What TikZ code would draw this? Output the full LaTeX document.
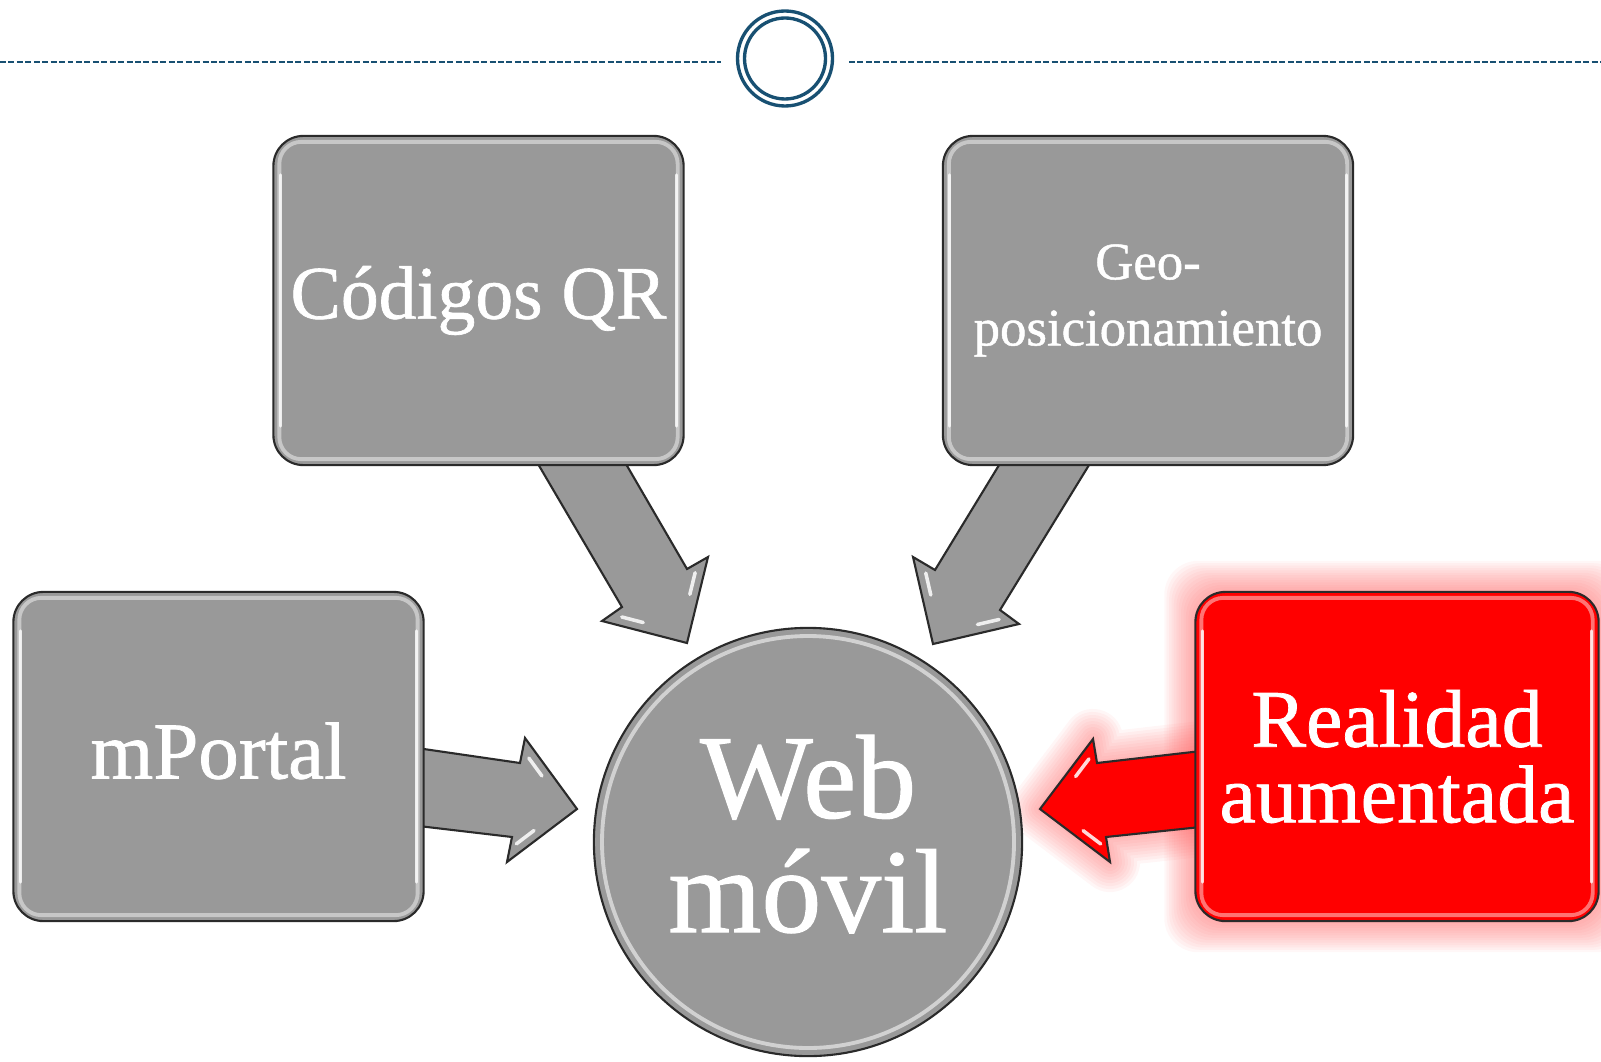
\documentclass[tikz,border=0pt]{standalone}
\usepackage{fontspec}
\setmainfont{Liberation Serif}[FakeBold=0.9]
\usetikzlibrary{calc}
\definecolor{boxgray}{HTML}{999999}
\definecolor{deco}{RGB}{24,80,114}
\definecolor{edge}{HTML}{2A2A2A}
\definecolor{hot}{HTML}{FF0000}
\newcommand\glossbox[1]{%
  \draw[white, opacity=0.45, line width=1.1pt, rounded corners=0.22cm]
    ($(#1.north west)+(7,7)$) rectangle ($(#1.south east)+(-7,-7)$);
  \draw[white, opacity=0.8, line width=0.9pt, line cap=round]
    ($(#1.north west)+(8,40)$) -- ($(#1.south west)+(8,-40)$);
  \draw[white, opacity=0.8, line width=0.9pt, line cap=round]
    ($(#1.north east)+(-8,40)$) -- ($(#1.south east)+(-8,-40)$);
}
\newcommand\headgloss[3]{% barb1, tip, barb2
  \draw[white, opacity=0.85, line width=1pt, line cap=round]
    ($(#1)!0.12!(#2)!0.10!(#3)$) -- ($(#1)!0.40!(#2)!0.10!(#3)$);
  \draw[white, opacity=0.85, line width=1pt, line cap=round]
    ($(#3)!0.12!(#2)!0.10!(#1)$) -- ($(#3)!0.40!(#2)!0.10!(#1)$);
}
\begin{document}
\begin{tikzpicture}[x=0.01cm,y=-0.01cm,
  gbox/.style={draw=edge, line width=0.6pt, fill=boxgray, rounded corners=0.3cm,
    minimum width=4.1cm, minimum height=3.29cm, inner sep=0pt, text=white, align=center},
  rbox/.style={gbox, fill=hot, minimum width=4.03cm},
  blockarrow/.style={draw=edge, line width=0.6pt, fill=boxgray, line join=miter},
  redarrow/.style={blockarrow, fill=hot},
  deco line/.style={deco, line width=0.45pt, dash pattern=on 1.7pt off 0.7pt},
  ring/.style={deco, line width=0.95pt}
]
\useasboundingbox (0,0) rectangle (1601,1061);

% ---------- top decoration ----------
\node[circle, minimum size=0.95cm, inner sep=0pt] (topc) at (785,58.5) {};
\coordinate (dl0) at (0,62);
\coordinate (dl1) at (721,62);
\coordinate (dr0) at (849,62);
\coordinate (dr1) at (1601,62);
\draw[deco line] (dl0) -- (dl1);
\draw[deco line] (dr0) -- (dr1);
\draw[ring] (topc) circle (47.5);
\draw[ring] (topc) circle (40.5);

\path
  (478.5,300.5) coordinate (qrc)
  (1148,300.5) coordinate (geoc)
  (218.5,756.5) coordinate (mpc)
  (1397,756.5) coordinate (rac)
  (808,842) coordinate (webc);

% glow of red elements
\foreach \i in {1,...,13}{
  \fill[hot!65, opacity=0.05, rounded corners=0.34cm]
    ($(rac)+(-201.5-2.4*\i,-164.5-2.4*\i)$) rectangle ($(rac)+(201.5+2.4*\i,164.5+2.4*\i)$);}
\coordinate (ra1) at (1210,750);
\coordinate (ra2) at (1097,763);
\coordinate (ra3) at (1093,739);
\coordinate (ra4) at (1040,809);
\coordinate (ra5) at (1110,862);
\coordinate (ra6) at (1106,837);
\coordinate (ra7) at (1210,826);
\foreach \w in {6,12,...,60}{
  \draw[hot!65, opacity=0.055, line width=\w*0.2845pt, line join=round]
    (ra1) -- (ra2) -- (ra3) -- (ra4) -- (ra5) -- (ra6) -- (ra7) -- cycle;}

% ---------- arrows ----------
\coordinate (qa1) at (531,452);
\coordinate (qa2) at (622,607);
\coordinate (qa3) at (602,621);
\coordinate (qa4) at (687,643);
\coordinate (qa5) at (708,557);
\coordinate (qa6) at (687,569);
\coordinate (qa7) at (619,452);
\draw[blockarrow] (qa1) -- (qa2) -- (qa3) -- (qa4) -- (qa5) -- (qa6) -- (qa7) -- cycle;
\headgloss{qa3}{qa4}{qa5}

\coordinate (ga1) at (1097,452);
\coordinate (ga2) at (1000,610);
\coordinate (ga3) at (1019,624);
\coordinate (ga4) at (933,644);
\coordinate (ga5) at (913,557);
\coordinate (ga6) at (935,570);
\coordinate (ga7) at (1007,452);
\draw[blockarrow] (ga1) -- (ga2) -- (ga3) -- (ga4) -- (ga5) -- (ga6) -- (ga7) -- cycle;
\headgloss{ga3}{ga4}{ga5}

\coordinate (ma1) at (410,747);
\coordinate (ma2) at (520,763);
\coordinate (ma3) at (525,738);
\coordinate (ma4) at (577,809);
\coordinate (ma5) at (507,862);
\coordinate (ma6) at (512,837);
\coordinate (ma7) at (410,825);
\draw[blockarrow] (ma1) -- (ma2) -- (ma3) -- (ma4) -- (ma5) -- (ma6) -- (ma7) -- cycle;
\headgloss{ma3}{ma4}{ma5}

\draw[redarrow] (ra1) -- (ra2) -- (ra3) -- (ra4) -- (ra5) -- (ra6) -- (ra7) -- cycle;
\headgloss{ra3}{ra4}{ra5}

% ---------- boxes ----------
\node[gbox, font=\fontsize{21.5}{24}\selectfont] (qr) at (qrc) {Códigos QR};
\node[gbox, font=\fontsize{15}{18.8}\selectfont] (geo) at (geoc) {Geo-\\posicionamiento};
\node[gbox, font=\fontsize{23}{26}\selectfont, text depth=0.12cm] (mp) at (mpc) {mPortal};
\node[rbox, font=\fontsize{23.3}{21.5}\selectfont] (ra) at (rac) {Realidad\\aumentada};
\glossbox{qr}
\glossbox{geo}
\glossbox{mp}
\glossbox{ra}

% ---------- central circle ----------
\node[circle, draw=edge, line width=0.6pt, fill=boxgray, minimum size=4.28cm, inner sep=0pt] (web) at (webc) {};
\draw[white, opacity=0.55, line width=1.1pt] (web.center) circle (206);
\node[text=white, align=center, inner sep=0pt, font=\fontsize{34}{32.5}\selectfont]
  (webtext) at ($(web.center)+(0,-8)$) {Web\\móvil};
\end{tikzpicture}
\end{document}
